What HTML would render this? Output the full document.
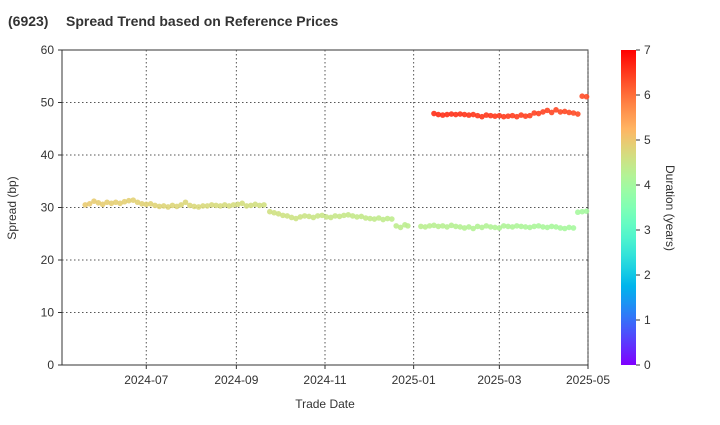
<!DOCTYPE html>
<html><head><meta charset="utf-8"><style>
body{margin:0;background:#fff;font-family:"Liberation Sans",sans-serif}
</style></head><body>
<svg id="c" width="720" height="420" xmlns="http://www.w3.org/2000/svg" font-family="Liberation Sans, sans-serif">
<text x="8" y="26" font-size="14" font-weight="bold" fill="#333">(6923)</text>
<text x="66" y="26" font-size="14" font-weight="bold" fill="#333">Spread Trend based on Reference Prices</text>
<rect x="62" y="50" width="526" height="315" fill="#fff" stroke="#333"/>
<g id="grid"></g><g id="pts"></g><g id="axes"></g>
<text x="325" y="408" font-size="12" fill="#333" text-anchor="middle">Trade Date</text>
<text transform="translate(16,208) rotate(-90)" font-size="12" fill="#333" text-anchor="middle">Spread (bp)</text>
<defs><linearGradient id="cb" x1="0" y1="1" x2="0" y2="0"></linearGradient></defs>
<rect x="621" y="50" width="15" height="315" fill="url(#cb)"/>
<text transform="translate(666,208) rotate(90)" font-size="12" fill="#333" text-anchor="middle">Duration (years)</text>
</svg>
<script>
const xTicks=["2024-07","2024-09","2024-11","2025-01","2025-03","2025-05"];
const yTicks=[0,10,20,30,40,50,60];
const cbTicks=[0,1,2,3,4,5,6,7];
const lowDates=["2024-05-20","2024-05-23","2024-05-26","2024-05-29","2024-06-01","2024-06-04","2024-06-07","2024-06-10","2024-06-13","2024-06-16","2024-06-19","2024-06-22","2024-06-25","2024-06-28","2024-07-01","2024-07-04","2024-07-07","2024-07-10","2024-07-13","2024-07-16","2024-07-19","2024-07-22","2024-07-25","2024-07-28","2024-07-31","2024-08-03","2024-08-06","2024-08-09","2024-08-12","2024-08-15","2024-08-18","2024-08-21","2024-08-24","2024-08-27","2024-08-30","2024-09-02","2024-09-05","2024-09-08","2024-09-11","2024-09-14","2024-09-17","2024-09-20","2024-09-24","2024-09-27","2024-09-30","2024-10-03","2024-10-06","2024-10-09","2024-10-12","2024-10-15","2024-10-18","2024-10-21","2024-10-24","2024-10-27","2024-10-30","2024-11-02","2024-11-05","2024-11-08","2024-11-11","2024-11-14","2024-11-17","2024-11-20","2024-11-23","2024-11-26","2024-11-29","2024-12-02","2024-12-05","2024-12-08","2024-12-11","2024-12-14","2024-12-17","2024-12-20","2024-12-23","2024-12-26","2024-12-28","2025-01-06","2025-01-09","2025-01-12","2025-01-15","2025-01-18","2025-01-21","2025-01-24","2025-01-27","2025-01-30","2025-02-02","2025-02-05","2025-02-08","2025-02-11","2025-02-14","2025-02-17","2025-02-20","2025-02-23","2025-02-26","2025-03-01","2025-03-04","2025-03-07","2025-03-10","2025-03-13","2025-03-16","2025-03-19","2025-03-22","2025-03-25","2025-03-28","2025-03-31","2025-04-03","2025-04-06","2025-04-09","2025-04-12","2025-04-15","2025-04-18","2025-04-21","2025-04-24","2025-04-27","2025-04-30"];
const lowValues=[30.5,30.7,31.2,30.9,30.6,31.0,30.8,31.0,30.8,31.1,31.3,31.4,31.0,30.7,30.6,30.7,30.4,30.2,30.3,30.1,30.4,30.2,30.5,31.0,30.4,30.2,30.1,30.3,30.3,30.5,30.4,30.3,30.5,30.3,30.5,30.6,30.8,30.3,30.4,30.6,30.4,30.5,29.2,29.0,28.8,28.5,28.4,28.1,27.9,28.2,28.4,28.3,28.1,28.4,28.5,28.2,28.1,28.4,28.3,28.5,28.6,28.4,28.2,28.3,28.0,27.9,27.8,28.0,27.7,27.9,27.8,26.5,26.2,26.7,26.5,26.4,26.3,26.5,26.6,26.4,26.5,26.3,26.6,26.4,26.3,26.1,26.3,26.0,26.4,26.2,26.5,26.3,26.2,26.1,26.5,26.4,26.3,26.5,26.4,26.3,26.2,26.4,26.5,26.3,26.2,26.4,26.3,26.1,26.0,26.2,26.1,29.1,29.2,29.3];
const highDates=["2025-01-15","2025-01-18","2025-01-21","2025-01-24","2025-01-27","2025-01-30","2025-02-02","2025-02-05","2025-02-08","2025-02-11","2025-02-14","2025-02-17","2025-02-20","2025-02-23","2025-02-26","2025-03-01","2025-03-04","2025-03-07","2025-03-10","2025-03-13","2025-03-16","2025-03-19","2025-03-22","2025-03-25","2025-03-28","2025-03-31","2025-04-03","2025-04-06","2025-04-09","2025-04-12","2025-04-15","2025-04-18","2025-04-21","2025-04-24","2025-04-27","2025-04-30"];
const highValues=[47.9,47.7,47.6,47.7,47.8,47.7,47.8,47.7,47.6,47.7,47.5,47.3,47.6,47.5,47.4,47.5,47.3,47.4,47.5,47.3,47.6,47.4,47.5,48.0,47.9,48.2,48.5,48.1,48.6,48.2,48.3,48.1,48.0,47.8,51.2,51.1];
const lowDurStart=4.95, highDurStart=6.6, durRefDate="2024-05-20", highRefDate="2025-01-15";
const svg=document.getElementById('c'),NS="http://www.w3.org/2000/svg";
const X0=Date.parse("2024-05-04"),X1=Date.parse("2025-05-01");
const xs=d=>62+(Date.parse(d)-X0)/(X1-X0)*526;
const ys=v=>365-v/60*315;
function rb(dur){const t=Math.max(0,Math.min(1,dur/7));const r=Math.min(1,Math.abs(2*t-0.5)),g=Math.sin(t*Math.PI),b=Math.max(0,Math.cos(t*Math.PI/2));return `rgb(${Math.round(r*255)},${Math.round(g*255)},${Math.round(b*255)})`;}
function mk(tag,at,par){const e=document.createElementNS(NS,tag);for(const k in at)e.setAttribute(k,at[k]);par.appendChild(e);return e;}
const G=document.getElementById('grid'),A=document.getElementById('axes'),P=document.getElementById('pts');
xTicks.forEach(t=>{const x=xs(t+"-01");
 const l=mk('line',{x1:x,x2:x,y1:50,y2:365,stroke:'#555','stroke-dasharray':'1.5,2.5','stroke-width':1},G);
 
 
 const tk=mk('line',{x1:x,x2:x,y1:365,y2:369,stroke:'#333'},A);
 
 
 const tx=mk('text',{x:x,y:384,'font-size':12,fill:'#333','text-anchor':'middle'},A);tx.textContent=t;
 
 });
yTicks.forEach(v=>{const y=ys(v);
 if(v>0&&v<60){const l=mk('line',{x1:62,x2:588,y1:y,y2:y,stroke:'#555','stroke-dasharray':'1.5,2.5','stroke-width':1},G);
 
 }
 const tk=mk('line',{x1:58,x2:62,y1:y,y2:y,stroke:'#333'},A);
 
 
 const tx=mk('text',{x:54,y:y+4,'font-size':12,fill:'#333','text-anchor':'end'},A);tx.textContent=v;
 
 });
function series(dates,vals,d0,ref,name){dates.forEach((d,i)=>{const dur=d0-(Date.parse(d)-Date.parse(ref))/(365.25*864e5);
 const c=mk('circle',{cx:xs(d),cy:ys(vals[i]),r:2.8,fill:rb(dur),'fill-opacity':0.9},P);
 
 });}
series(lowDates,lowValues,lowDurStart,durRefDate,'spread-point-short');
series(highDates,highValues,highDurStart,highRefDate,'spread-point-long');
const cb=document.getElementById('cb');
for(let i=0;i<=20;i++){mk('stop',{offset:(i/20),'stop-color':rb(i/20*7)},cb);}
cbTicks.forEach(v=>{const y=365-v/7*315;
 const tk=mk('line',{x1:636,x2:640,y1:y,y2:y,stroke:'#333'},svg);
 
 
 const tx=mk('text',{x:644,y:y+4,'font-size':12,fill:'#333'},svg);tx.textContent=v;
 
 });
</script>
</body></html>
